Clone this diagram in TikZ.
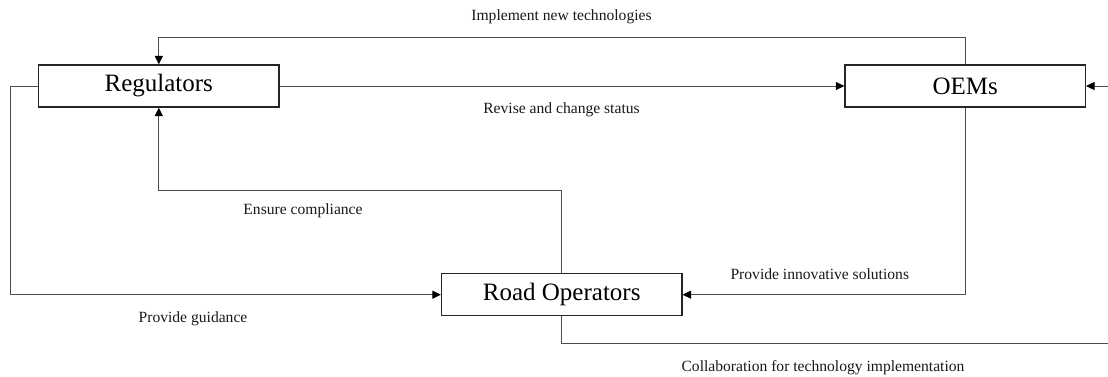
\documentclass[tikz,border=0pt]{standalone}
\usepackage{fontspec}
\setmainfont{Liberation Serif}
\usetikzlibrary{arrows.meta}
\begin{document}
\begin{tikzpicture}[x=1pt,y=-1pt,
  actor/.style={draw=black!85, line width=1.2pt, minimum width=240.5pt, minimum height=42pt,
    inner sep=0pt, font=\fontsize{25}{30}\selectfont},
  flow/.style={draw=black!70, line width=1pt, -{Triangle[length=8.5pt,width=8pt,color=black]}},
  note/.style={font=\fontsize{15.6}{18}\selectfont, text=black!90, inner sep=0pt}]
  \useasboundingbox (0,0) rectangle (1108,376);
  \clip (0,0) rectangle (1108,376);

  % actors
  \node[actor] (reg)  at (158.8,86)   {Regulators};
  \node[actor] (oem)  at (965.2,86)   {OEMs};
  \node[actor] (road) at (561.7,294.7) {Road Operators};

  % bends of the routed connectors
  \coordinate (topbend) at (0,37.7);
  \coordinate (midbend) at (0,190.3);
  \coordinate (leftrail) at (10.3,0);
  \coordinate (lowrail) at (0,343.3);
  \coordinate (rightrail) at (1125,0);

  % connectors
  \draw[flow] (oem.north) |- (topbend -| reg.north) -- (reg.north);
  \draw[flow] (reg.east) -- (oem.west);
  \draw[flow] (road.north) |- (midbend -| reg.south) -- (reg.south);
  \draw[flow] (reg.west) -| (leftrail |- road.west) -- (road.west);
  \draw[flow] (oem.south) |- (road.east);
  \draw[flow] (road.south) |- (rightrail |- lowrail) |- (oem.east);

  % labels
  \node[note] (l1) at (561.5,16.7)  {Implement new technologies};
  \node[note] (l2) at (561.5,110)   {Revise and change status};
  \node[note] (l3) at (303,211)     {Ensure compliance};
  \node[note] (l4) at (193,319)     {Provide guidance};
  \node[note] (l5) at (819.8,274.3) {Provide innovative solutions};
  \node[note] (l6) at (823,367.7)   {Collaboration for technology implementation};
\end{tikzpicture}
\end{document}
